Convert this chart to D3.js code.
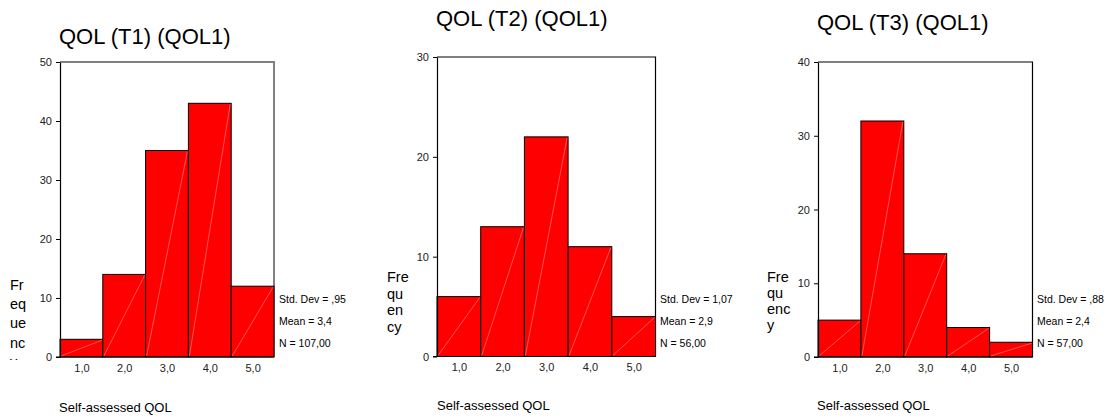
<!DOCTYPE html>
<html>
<head>
<meta charset="utf-8">
<script src="https://cdn.jsdelivr.net/npm/d3@7"></script>
<style>
  html, body { margin: 0; padding: 0; background: #fff; }
  svg { display: block; font-family: "Liberation Sans", Arial, sans-serif; }
</style>
</head>
<body>
<svg id="chart" width="1107" height="419"></svg>
<script>
// ---- data ----
const categories = [1, 2, 3, 4, 5];
const xTickLabels = ["1,0", "2,0", "3,0", "4,0", "5,0"];
const t1Counts = [3, 14, 35, 43, 12];
const t2Counts = [6, 13, 22, 11, 4];
const t3Counts = [5, 32, 14, 4, 2];
const t1YTicks = [0, 10, 20, 30, 40, 50];
const t2YTicks = [0, 10, 20, 30];
const t3YTicks = [0, 10, 20, 30, 40];
const titles = ["QOL (T1) (QOL1)", "QOL (T2) (QOL1)", "QOL (T3) (QOL1)"];
const yLabelLines = [["Fr", "eq", "ue", "nc", "y"], ["Fre", "qu", "en", "cy"], ["Fre", "qu", "enc", "y"]];
const statsT1 = ["Std. Dev = ,95", "Mean = 3,4", "N = 107,00"];
const statsT2 = ["Std. Dev = 1,07", "Mean = 2,9", "N = 56,00"];
const statsT3 = ["Std. Dev = ,88", "Mean = 2,4", "N = 57,00"];
const xAxisTitle = "Self-assessed QOL";

// ---- layout (per panel) ----
const panels = [
  { counts: t1Counts, yTicks: t1YTicks, stats: statsT1, title: titles[0], ylab: yLabelLines[0],
    left: 60, right: 274, top: 62, bottom: 357, frame: "#808080", frameW: 2,
    titleX: 59, titleY: 44, ylabX: 10, ylabY: 290, ylabDy: 19.2, statX: 279, statY: 302.5, xlabX: 59, xlabY: 412 },
  { counts: t2Counts, yTicks: t2YTicks, stats: statsT2, title: titles[1], ylab: yLabelLines[1],
    left: 437, right: 655.5, top: 57, bottom: 356.5, frame: "#000", frameW: 1.2,
    titleX: 436, titleY: 26, ylabX: 387, ylabY: 282, ylabDy: 16.5, statX: 660, statY: 302.5, xlabX: 437, xlabY: 410 },
  { counts: t3Counts, yTicks: t3YTicks, stats: statsT3, title: titles[2], ylab: yLabelLines[2],
    left: 818, right: 1032.5, top: 62, bottom: 357, frame: "#000", frameW: 1.2,
    titleX: 817, titleY: 30, ylabX: 767, ylabY: 282, ylabDy: 16, statX: 1037, statY: 302.5, xlabX: 817, xlabY: 410 }
];

const svg = d3.select("#chart");

panels.forEach((p, i) => {
  const g = svg.append("g");
  const ymax = d3.max(p.yTicks);
  const x = d3.scaleLinear().domain([0.5, 5.5]).range([p.left, p.right]);
  const y = d3.scaleLinear().domain([0, ymax]).range([p.bottom, p.top]);

  // frame (top & right)
  g.append("path")
    .attr("d", `M${p.left},${p.top}H${p.right}V${p.bottom}`)
    .attr("fill", "none").attr("stroke", p.frame).attr("stroke-width", p.frameW);

  // bars
  const bars = g.append("g").selectAll("g").data(categories).join("g");
  bars.append("rect")
    .attr("x", d => x(d - 0.5))
    .attr("width", d => x(d + 0.5) - x(d - 0.5))
    .attr("y", (d, j) => y(p.counts[j]))
    .attr("height", (d, j) => y(0) - y(p.counts[j]))
    .attr("fill", "#ff0000").attr("stroke", "#000").attr("stroke-width", 1);
  bars.append("line")
    .attr("x1", d => x(d - 0.5) + 1)
    .attr("y1", y(0) - 1)
    .attr("x2", d => x(d + 0.5) - 1)
    .attr("y2", (d, j) => y(p.counts[j]) + 1)
    .attr("stroke", "#ffa8a8").attr("stroke-width", 0.5);

  // y axis
  const ya = g.append("g").attr("transform", `translate(${p.left},0)`)
    .call(d3.axisLeft(y).tickValues(p.yTicks).tickFormat(d3.format("d")).tickSize(4).tickPadding(4).tickSizeOuter(0));
  ya.select(".domain").attr("stroke", "#000").attr("stroke-width", 1.2);
  ya.selectAll("text").attr("font-size", 11).attr("fill", "#222").attr("font-family", "Liberation Sans, Arial, sans-serif");

  // x axis
  const xa = g.append("g").attr("transform", `translate(0,${p.bottom})`)
    .call(d3.axisBottom(x).tickValues(categories).tickFormat((d, j) => xTickLabels[j]).tickSize(0).tickPadding(7));
  xa.select(".domain").attr("stroke", "#000").attr("stroke-width", 1.2)
    .attr("d", `M${p.left - 4},0H${p.right}`);
  xa.selectAll("text").attr("font-size", 11).attr("fill", "#222").attr("font-family", "Liberation Sans, Arial, sans-serif");

  // title
  g.append("text").attr("x", p.titleX).attr("y", p.titleY)
    .attr("font-size", 22).attr("fill", "#000").text(p.title);

  // y label (wrapped), clipped just below plot bottom
  const clipId = "ylabclip" + i;
  svg.append("clipPath").attr("id", clipId).append("rect")
    .attr("x", p.ylabX - 5).attr("y", 0).attr("width", 60).attr("height", p.bottom + 3);
  g.append("g").attr("clip-path", `url(#${clipId})`)
    .selectAll("text").data(p.ylab).join("text")
    .attr("x", p.ylabX).attr("y", (d, j) => p.ylabY + j * p.ylabDy)
    .attr("font-size", 14.5).attr("fill", "#000").text(d => d);

  // stats
  g.append("g").selectAll("text").data(p.stats).join("text")
    .attr("x", p.statX).attr("y", (d, j) => p.statY + j * 22)
    .attr("font-size", 10.5).attr("fill", "#000").text(d => d);

  // x title
  g.append("text").attr("x", p.xlabX).attr("y", p.xlabY)
    .attr("font-size", 13).attr("fill", "#000").text(xAxisTitle);
});
</script>
</body>
</html>
